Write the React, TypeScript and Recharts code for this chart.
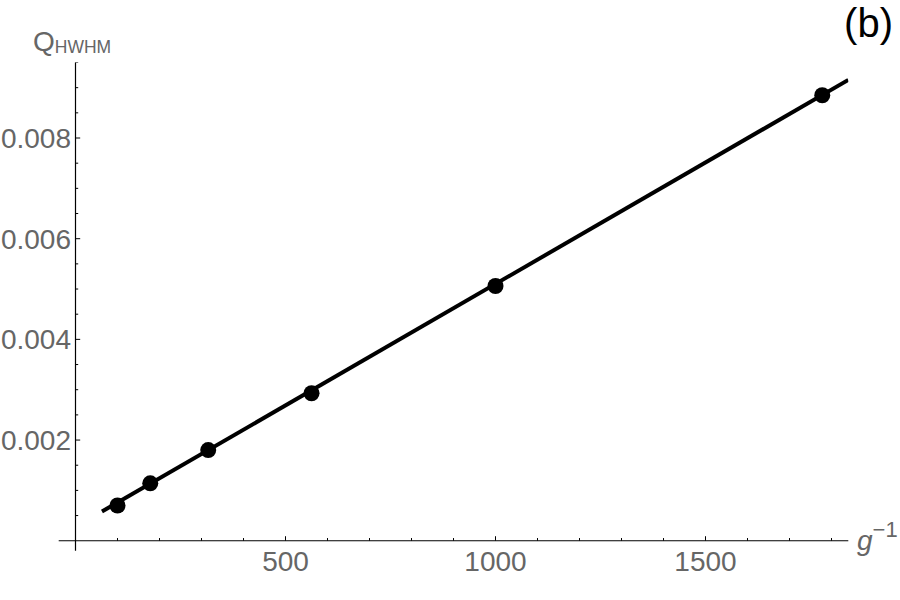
import React from 'react';
import { ComposedChart, Line, Scatter, XAxis, YAxis, ReferenceLine } from 'recharts';

// measured points: g^-1 vs Q_HWHM
const gInv = [100, 178, 316, 562, 1000, 1778];
const qHwhm = [0.0007, 0.00114, 0.0018, 0.00293, 0.00506, 0.00885];

// linear fit drawn across the plot
const fitX = [63, 1840];
const fitY = [0.00058, 0.009154];

const xLabelTicks = [500, 1000, 1500];
const xMinorTicks = [100, 200, 300, 400, 600, 700, 800, 900, 1100, 1200, 1300, 1400, 1600, 1700, 1800];
const yLabelTicks = [0.002, 0.004, 0.006, 0.008];
const yMinorTicks = [0.0005, 0.001, 0.0015, 0.0025, 0.003, 0.0035, 0.0045, 0.005, 0.0055, 0.0065, 0.007, 0.0075, 0.0085, 0.009, 0.0095];

const points = gInv.map((x, i) => ({ x, y: qHwhm[i] }));
const fit = fitX.map((x, i) => ({ x, y: fitY[i] }));
const xMajorMarks = xLabelTicks.map((x) => ({ x, y: 0 }));
const xMinorMarks = xMinorTicks.map((x) => ({ x, y: 0 }));
const yMajorMarks = yLabelTicks.map((y) => ({ x: 0, y }));
const yMinorMarks = yMinorTicks.map((y) => ({ x: 0, y }));

const FONT = '"Liberation Sans", Arial, Helvetica, sans-serif';
const GRAY = '#666';

const xMark = (len: number) => (p: any) => (
  <line x1={p.cx} x2={p.cx} y1={p.cy} y2={p.cy - len} stroke="#000" strokeWidth={1} />
);
const yMark = (len: number) => (p: any) => (
  <line x1={p.cx} x2={p.cx + len} y1={p.cy} y2={p.cy} stroke="#000" strokeWidth={1} />
);

const XTick = (props: any) => (
  <text x={props.x} y={props.y} dy="0.72em" textAnchor="middle" fill={GRAY} fontSize={28} fontFamily={FONT}>
    {props.payload.value}
  </text>
);

const YTick = (props: any) => (
  <text x={props.x + 12.3} y={props.y} dy="0.36em" textAnchor="end" fill={GRAY} fontSize={28} fontFamily={FONT}>
    {props.payload.value.toFixed(3)}
  </text>
);

const App = () => {
  return (
    <div style={{ position: 'absolute', left: 0, top: 0, width: 900, height: 600, background: '#fff' }}>
      <ComposedChart
        width={900}
        height={600}
        margin={{ top: 62.5, right: 51.7, bottom: 0, left: 0 }}
      >
        <XAxis
          type="number"
          dataKey="x"
          domain={[-40, 1840]}
          allowDataOverflow
          ticks={xLabelTicks}
          tick={XTick}
          tickSize={0}
          tickMargin={0}
          tickLine={false}
          axisLine={false}
          height={49.2}
        />
        <YAxis
          type="number"
          dataKey="y"
          domain={[-0.0002, 0.0095]}
          allowDataOverflow
          ticks={yLabelTicks}
          tick={YTick}
          tickSize={0}
          tickMargin={0}
          tickLine={false}
          axisLine={false}
          width={58.7}
        />
        <ReferenceLine y={0} stroke="#000" strokeWidth={1.2} />
        <ReferenceLine x={0} stroke="#000" strokeWidth={1.2} />
        <Scatter data={xMinorMarks} shape={xMark(2.7)} isAnimationActive={false} />
        <Scatter data={xMajorMarks} shape={xMark(4.5)} isAnimationActive={false} />
        <Scatter data={yMinorMarks} shape={yMark(2.7)} isAnimationActive={false} />
        <Scatter data={yMajorMarks} shape={yMark(4.7)} isAnimationActive={false} />
        <Line
          data={fit}
          dataKey="y"
          type="linear"
          stroke="#000"
          strokeWidth={4}
          dot={false}
          activeDot={false}
          isAnimationActive={false}
        />
        <Scatter
          data={points}
          shape={(p: any) => <circle cx={p.cx} cy={p.cy} r={8} fill="#000" />}
          isAnimationActive={false}
        />
      </ComposedChart>
      <svg
        width={900}
        height={600}
        style={{ position: 'absolute', left: 0, top: 0, pointerEvents: 'none' }}
      >
        <text x={33} y={51} fill={GRAY} fontFamily={FONT}>
          <tspan fontSize={28}>Q</tspan>
          <tspan fontSize={17.5} dy={2}>HWHM</tspan>
        </text>
        <text x={857} y={550} fill={GRAY} fontFamily={FONT}>
          <tspan fontSize={28} fontStyle="italic">g</tspan>
          <tspan fontSize={22} dy={-13}>−1</tspan>
        </text>
        <text x={893} y={37} textAnchor="end" fill="#000" fontSize={40} fontFamily={FONT}>
          (b)
        </text>
      </svg>
    </div>
  );
};

export default App;
